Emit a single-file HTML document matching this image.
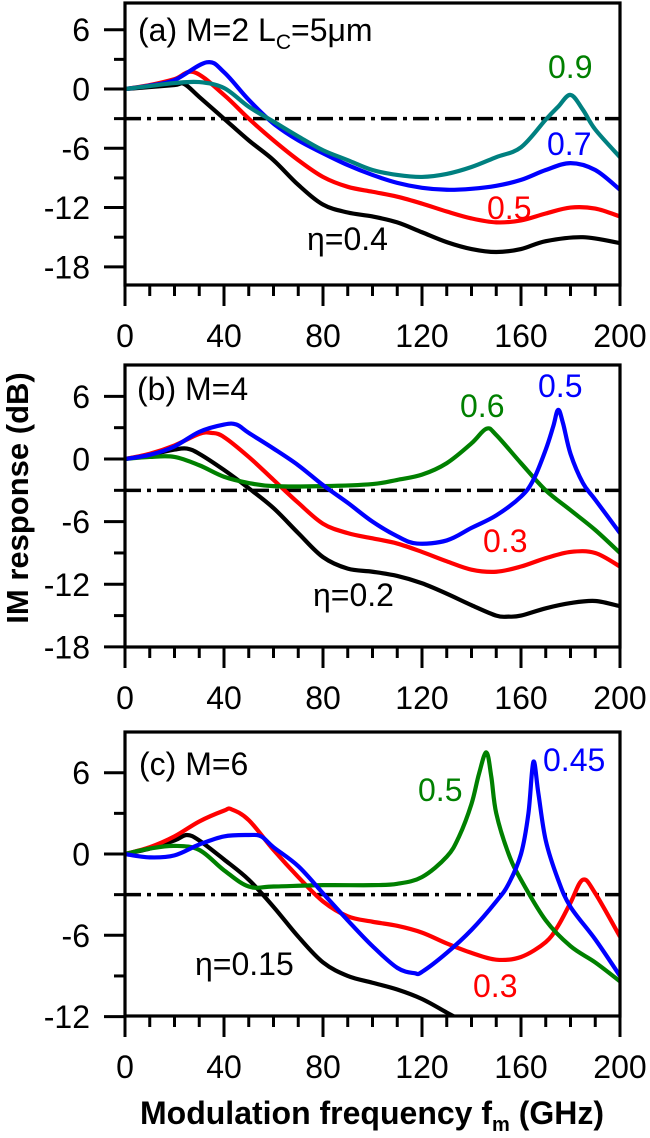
<!DOCTYPE html>
<html><head><meta charset="utf-8"><style>
html,body{margin:0;padding:0;background:#fff;}
svg{display:block;font-family:"Liberation Sans",Arial,sans-serif;}
</style></head><body>
<svg id="chart" width="650" height="1138" viewBox="0 0 650 1138"></svg>
<script>
// ---- data ----
const xTicks = [0,40,80,120,160,200];
// panel a (M=2)
const aBlackX = [0,10,20,24,30,40,50,60,70,80,90,100,110,120,130,140,150,160,170,185,200];
const aBlackY = [0,0.2,0.4,0.5,-0.8,-3,-5.2,-7.2,-9.7,-11.7,-12.5,-12.9,-13.5,-14.5,-15.5,-16.2,-16.5,-16.2,-15.4,-15,-15.6];
const aRedX = [0,10,20,28,40,50,60,70,80,90,100,110,120,130,140,150,160,170,180,190,200];
const aRedY = [0,0.4,1,1.7,-0.6,-3,-5.2,-7.2,-8.9,-9.9,-10.4,-10.9,-11.6,-12.4,-13.1,-13.5,-13.3,-12.6,-12,-12.1,-12.9];
const aBlueX = [0,10,20,33,40,50,60,70,80,90,100,110,120,130,140,150,160,170,180,190,200];
const aBlueY = [0,0.35,0.9,2.7,1.7,-1.1,-3.5,-5.2,-6.5,-7.7,-8.7,-9.5,-10,-10.2,-10.1,-9.8,-9.2,-8.2,-7.5,-8.2,-10.2];
const aTealX = [0,10,20,30,40,50,60,70,80,90,100,110,120,130,140,150,160,170,175,180,185,190,200];
const aTealY = [0,0.3,0.6,0.7,0.1,-1.8,-3.3,-4.8,-6.2,-7.2,-8.2,-8.7,-8.9,-8.6,-7.9,-6.9,-5.9,-3.1,-1.8,-0.6,-2.1,-4.1,-6.9];
// panel b (M=4)
const bBlackX = [0,10,20,25,30,40,50,60,70,80,90,100,110,120,130,140,150,155,160,170,180,190,200];
const bBlackY = [0,0.4,0.9,1.0,0.5,-1.05,-2.8,-4.7,-7.1,-9.4,-10.5,-10.8,-11.2,-11.9,-12.9,-14,-15,-15.1,-15,-14.3,-13.8,-13.6,-14.1];
const bRedX = [0,10,20,30,35,40,50,60,70,80,90,100,110,120,130,140,150,160,170,180,190,200];
const bRedY = [0,0.5,1.3,2.4,2.5,2.1,0.2,-2,-4.2,-6.2,-7.1,-7.6,-8.1,-8.9,-9.8,-10.6,-10.8,-10.3,-9.5,-8.9,-9.0,-10.3];
const bBlueX = [0,10,20,30,40,45,50,60,70,80,90,100,110,118,130,140,150,160,165,170,173,175,177,180,185,190,200];
const bBlueY = [0,0.4,1.2,2.6,3.3,3.3,2.5,1,-0.6,-2.5,-4.2,-6,-7.4,-8.1,-7.8,-6.6,-5.4,-3.6,-2,0.9,3.1,4.7,3.4,0.5,-2.3,-3.9,-7.1];
const bGreenX = [0,10,20,30,40,50,60,80,100,110,120,130,140,146,150,160,170,180,190,200];
const bGreenY = [0,0.2,0.2,-0.6,-1.7,-2.3,-2.6,-2.6,-2.4,-2,-1.5,-0.4,1.5,2.9,2.3,-0.4,-3,-4.9,-6.8,-9];
// panel c (M=6)
const cBlackX = [0,10,20,25,30,40,50,60,70,80,90,100,110,120,130,136];
const cBlackY = [0,0.4,1,1.4,1,-0.4,-1.9,-3.9,-6.1,-8,-9,-9.5,-10,-10.7,-11.7,-12.3];
const cRedX = [0,10,20,30,40,43,50,60,70,80,90,100,110,120,130,140,150,160,170,175,180,185,190,200];
const cRedY = [0,0.5,1.3,2.4,3.2,3.3,2.5,0.3,-1.7,-3.5,-4.6,-5,-5.3,-5.8,-6.6,-7.3,-7.8,-7.6,-6.5,-5.3,-3.6,-1.9,-2.9,-6.1];
const cBlueX = [0,10,20,30,40,50,55,60,70,80,90,100,110,117,120,130,140,150,155,160,163,165,167,170,175,180,190,200];
const cBlueY = [0,-0.25,-0.1,0.7,1.3,1.4,1.3,0.5,-0.9,-2.9,-4.9,-6.8,-8.4,-8.8,-8.7,-7.3,-5.6,-3.5,-2.2,0,3,6.8,4.5,1,-1.9,-3.9,-6.3,-9.0];
const cGreenX = [0,10,20,30,40,50,60,80,100,110,120,130,135,140,143,146,148,150,155,160,170,180,190,200];
const cGreenY = [0,0.4,0.6,0.3,-1.2,-2.4,-2.4,-2.3,-2.3,-2.2,-1.7,-0.2,1.3,3.7,5.9,7.5,5.7,3,0,-1.9,-4.9,-6.8,-8,-9.4];

const NS = "http://www.w3.org/2000/svg";
const svg = document.getElementById('chart');
const X0 = 125, X1 = 620;
function xs(g){ return X0 + (X1 - X0) * g / 200; }
function mk(tag, attrs, parent){ const e = document.createElementNS(NS, tag); for (const k in attrs) e.setAttribute(k, attrs[k]); (parent||svg).appendChild(e); return e; }

function smoothPath(pts){
  let d = "M" + pts[0][0].toFixed(2) + "," + pts[0][1].toFixed(2);
  for (let i = 0; i < pts.length - 1; i++){
    const p0 = pts[i-1] || pts[i], p1 = pts[i], p2 = pts[i+1], p3 = pts[i+2] || p2;
    const t = 0.17;
    const c1 = [p1[0] + (p2[0]-p0[0])*t, p1[1] + (p2[1]-p0[1])*t];
    const c2 = [p2[0] - (p3[0]-p1[0])*t, p2[1] - (p3[1]-p1[1])*t];
    d += " C" + c1[0].toFixed(2) + "," + c1[1].toFixed(2) + " " + c2[0].toFixed(2) + "," + c2[1].toFixed(2) + " " + p2[0].toFixed(2) + "," + p2[1].toFixed(2);
  }
  return d;
}

function panel(cfg){
  const g = mk('g', {});
  
  
  const ys = v => cfg.y0 - v * cfg.k;
  const clipId = cfg.name + '-clip';
  const defs = mk('defs', {}, g);
  const cp = mk('clipPath', {id: clipId}, defs);
  mk('rect', {x: X0, y: cfg.top, width: X1 - X0, height: cfg.bottom - cfg.top}, cp);
  for (let v = cfg.yMin; v <= cfg.yMax; v += 3){
    const y = ys(v);
    if (y < cfg.top + 2 || y > cfg.bottom + 1) continue;
    const major = v % 6 === 0;
    const tk = mk('line', {x1: X0 - (major ? 21 : 11), x2: X0, y1: y, y2: y, stroke: '#000', 'stroke-width': 3}, g);
    
    
    if (major){
      const tl = mk('text', {x: 90, y: y + 11.5, 'text-anchor': 'end', 'font-size': 32}, g);
      tl.textContent = String(v);
      
      
    }
  }
  for (let v = 0; v <= 200; v += 10){
    const x = xs(v);
    const major = v % 40 === 0;
    const tk = mk('line', {x1: x, x2: x, y1: cfg.bottom, y2: cfg.bottom + (major ? 21 : 11), stroke: '#000', 'stroke-width': 3}, g);
    
    
  }
  xTicks.forEach(v => {
    const tl = mk('text', {x: xs(v), y: cfg.bottom + 62, 'text-anchor': 'middle', 'font-size': 32}, g);
    tl.textContent = v;
    
    
  });
  const ref = mk('line', {x1: X0, x2: X1, y1: ys(-3), y2: ys(-3), stroke: '#000', 'stroke-width': 3.5, 'stroke-dasharray': '16 6 4 6'}, g);
  
  
  cfg.series.forEach(s => {
    const pts = s.x.map((xv, i) => [xs(xv), ys(s.y[i])]);
    const p = mk('path', {d: smoothPath(pts), fill: 'none', stroke: s.color, 'stroke-width': 4.2, 'stroke-linejoin': 'round', 'clip-path': 'url(#' + clipId + ')'}, g);
    
    
  });
  const fr = mk('rect', {x: X0, y: cfg.top, width: X1 - X0, height: cfg.bottom - cfg.top, fill: 'none', stroke: '#000', 'stroke-width': 3.2}, g);
  
  
  return g;
}

panel({name: 'panel-a', top: 3, bottom: 285, y0: 89, k: 9.88, yMin: -18, yMax: 9, series: [
  {name: 'curve-a-eta-0.4', color: '#000', x: aBlackX, y: aBlackY},
  {name: 'curve-a-eta-0.5', color: '#ff0000', x: aRedX, y: aRedY},
  {name: 'curve-a-eta-0.7', color: '#0000ff', x: aBlueX, y: aBlueY},
  {name: 'curve-a-eta-0.9', color: '#008080', x: aTealX, y: aTealY}]});
panel({name: 'panel-b', top: 365, bottom: 647, y0: 459, k: 10.44, yMin: -18, yMax: 9, series: [
  {name: 'curve-b-eta-0.2', color: '#000', x: bBlackX, y: bBlackY},
  {name: 'curve-b-eta-0.3', color: '#ff0000', x: bRedX, y: bRedY},
  {name: 'curve-b-eta-0.6', color: '#008000', x: bGreenX, y: bGreenY},
  {name: 'curve-b-eta-0.5', color: '#0000ff', x: bBlueX, y: bBlueY}]});
panel({name: 'panel-c', top: 732, bottom: 1016, y0: 854, k: 13.55, yMin: -12, yMax: 9, series: [
  {name: 'curve-c-eta-0.15', color: '#000', x: cBlackX, y: cBlackY},
  {name: 'curve-c-eta-0.3', color: '#ff0000', x: cRedX, y: cRedY},
  {name: 'curve-c-eta-0.5', color: '#008000', x: cGreenX, y: cGreenY},
  {name: 'curve-c-eta-0.45', color: '#0000ff', x: cBlueX, y: cBlueY}]});
</script>
<svg style="position:absolute;left:0;top:0" width="650" height="1138">
  <g font-family="Liberation Sans, Arial, sans-serif" font-size="32">
    <text x="138" y="41">(a) M=2  L<tspan font-size="21" dy="8">C</tspan><tspan dy="-8">=5μm</tspan></text>
    <text x="548" y="78" fill="#008000">0.9</text>
    <text x="547" y="155" fill="#0000ff">0.7</text>
    <text x="487" y="219" fill="#ff0000">0.5</text>
    <text x="307" y="250">η=0.4</text>
    <text x="137" y="400">(b) M=4</text>
    <text x="460" y="417" fill="#008000">0.6</text>
    <text x="538" y="397" fill="#0000ff">0.5</text>
    <text x="483" y="552" fill="#ff0000">0.3</text>
    <text x="313" y="606">η=0.2</text>
    <text x="139" y="775">(c) M=6</text>
    <text x="418" y="801" fill="#008000">0.5</text>
    <text x="543" y="771" fill="#0000ff">0.45</text>
    <text x="473" y="997" fill="#ff0000">0.3</text>
    <text x="195" y="975">η=0.15</text>
  </g>
  <text transform="translate(28,498) rotate(-90)" text-anchor="middle" font-family="Liberation Sans, Arial, sans-serif" font-weight="bold" font-size="31">IM response (dB)</text>
  <text x="372" y="1124" text-anchor="middle" font-family="Liberation Sans, Arial, sans-serif" font-weight="bold" font-size="32">Modulation frequency f<tspan font-size="20" dy="7">m</tspan><tspan dy="-7">  (GHz)</tspan></text>
</svg>
</body></html>
